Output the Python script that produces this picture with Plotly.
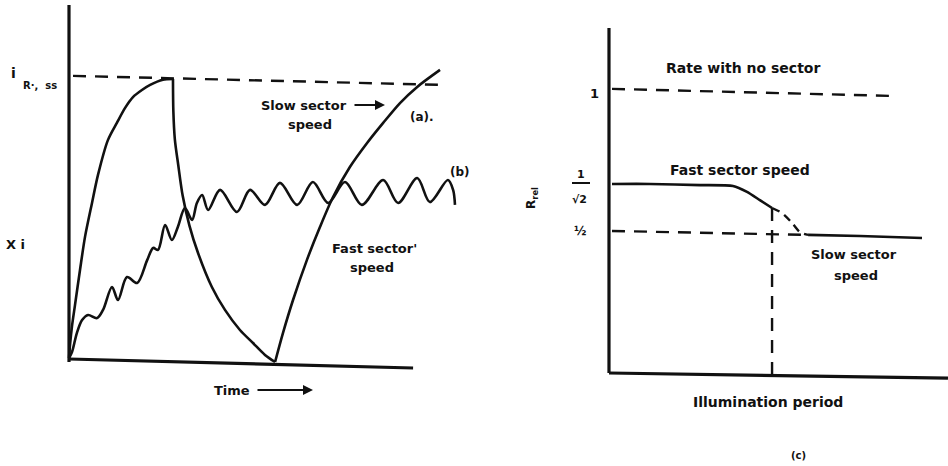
import plotly.graph_objects as go

W, H = 948, 466

# ---------------- Panel (a)/(b): concentration vs time ----------------
# curve (a): slow sector speed -- light on (rise), light off (decay), light on again (rise)
a_rise_time = [0, 0.27, 0.8, 1.6, 2.94, 4.28, 6.15, 7.75, 10.4, 12.8, 15.0, 17.1, 19.5, 21.7, 25.1, 27.8]
a_rise_conc = [0.7, 5.3, 12.0, 19.4, 31.8, 43.5, 55.5, 65.4, 77.7, 83.8, 89.1, 92.9, 95.4, 97.2, 99.0, 99.3]
a_decay_time = [27.8, 27.9, 28.3, 29.2, 30.4, 32.2, 34.5, 38.2, 41.7, 45.7, 49.2, 52.4, 55.1]
a_decay_conc = [99.3, 88.0, 78.0, 69.0, 58.0, 47.5, 37.8, 25.8, 17.7, 10.6, 6.0, 1.8, -0.7]
a_rec_time = [55.1, 57.2, 59.9, 63.6, 67.1, 70.6, 75.1, 79.7, 84.0, 88.5, 93.1, 99.2]
a_rec_conc = [-0.7, 9.5, 21.2, 35.3, 47.0, 57.6, 68.2, 76.7, 83.8, 90.8, 96.5, 102.5]

# curve (b): fast sector speed (oscillating build-up)
b_time = [0, 0.8, 2.1, 3.5, 5.1, 7.5, 9.1, 11.5, 13.1, 15.5, 18.2, 20.9, 22.5, 23.8, 25.7, 27.5,
          29.1, 31.0, 32.9, 34.2, 35.6, 37.2, 40.4, 44.9, 48.4, 52.4, 56.4, 61.0, 65.2, 69.3,
          73.8, 78.3, 84.0, 88.0, 93.1, 96.5, 101.3, 102.7, 103.2]
b_conc = [0.7, 2.8, 9.5, 14.1, 15.9, 14.8, 17.7, 25.8, 21.2, 29.3, 27.2, 35.3, 39.6, 38.9, 47.7, 42.4,
          47.0, 53.7, 49.5, 55.5, 58.3, 53.0, 60.1, 52.3, 60.1, 54.8, 62.6, 54.8, 62.9, 55.5,
          62.9, 54.8, 63.6, 55.5, 64.3, 55.8, 63.6, 60.1, 54.8]

ss_time = [1.07, 100.0]
ss_conc = [100.4, 97.2]

# ---------------- Panel (c): relative rate vs illumination period ----------------
fast_period = [0.96, 13.1, 29.1, 39.6, 44.1, 48.2, 52.1]
fast_rate = [0.668, 0.668, 0.664, 0.661, 0.640, 0.611, 0.583]
trans_period = [52.1, 55.3, 58.5, 61.0, 63.6]
trans_rate = [0.583, 0.565, 0.530, 0.498, 0.488]
slow_period = [63.6, 80.2, 100.0]
slow_rate = [0.488, 0.484, 0.477]
half_period = [0.96, 62.6]
half_rate = [0.502, 0.488]
full_period = [0.96, 90.4]
full_rate = [1.004, 0.979]
mark_period = [52.1, 52.1]
mark_rate = [0.583, -0.007]

INK = "#111111"
dash_style = dict(color=INK, width=2.4, dash="13px,9px")


def curve(x, y, xa, ya, width=2.6, smoothing=0.8, dash=None):
    ln = dict(color=INK, width=width, shape="spline", smoothing=smoothing)
    if dash:
        ln["dash"] = dash
    return go.Scatter(x=x, y=y, mode="lines", line=ln, xaxis=xa, yaxis=ya, hoverinfo="skip")


fig = go.Figure()
# left panel traces
fig.add_trace(go.Scatter(x=ss_time, y=ss_conc, mode="lines", line=dash_style,
                         xaxis="x", yaxis="y", hoverinfo="skip"))
fig.add_trace(curve(a_rise_time, a_rise_conc, "x", "y"))
fig.add_trace(curve(a_decay_time, a_decay_conc, "x", "y"))
fig.add_trace(curve(a_rec_time, a_rec_conc, "x", "y"))
fig.add_trace(curve(b_time, b_conc, "x", "y", smoothing=0.9))
# right panel traces
fig.add_trace(go.Scatter(x=full_period, y=full_rate, mode="lines", line=dash_style,
                         xaxis="x2", yaxis="y2", hoverinfo="skip"))
fig.add_trace(go.Scatter(x=half_period, y=half_rate, mode="lines", line=dash_style,
                         xaxis="x2", yaxis="y2", hoverinfo="skip"))
fig.add_trace(go.Scatter(x=mark_period, y=mark_rate, mode="lines", line=dash_style,
                         xaxis="x2", yaxis="y2", hoverinfo="skip"))
fig.add_trace(curve(fast_period, fast_rate, "x2", "y2", smoothing=0.6))
fig.add_trace(curve(trans_period, trans_rate, "x2", "y2", width=2.4, dash="8px,6px"))
fig.add_trace(curve(slow_period, slow_rate, "x2", "y2"))

# axis lines drawn in data coordinates
shapes = [
    dict(type="line", xref="x", yref="y", x0=0, y0=125.4, x1=0, y1=-0.7,
         line=dict(color=INK, width=3.2)),
    dict(type="line", xref="x", yref="y", x0=0, y0=0.35, x1=92.0, y1=-2.83,
         line=dict(color=INK, width=3.2)),
    dict(type="line", xref="x2", yref="y2", x0=0, y0=1.219, x1=0, y1=0,
         line=dict(color=INK, width=3.2)),
    dict(type="line", xref="x2", yref="y2", x0=0, y0=0, x1=108.3, y1=-0.018,
         line=dict(color=INK, width=3.2)),
    # fraction bar of the 1/sqrt2 label
    dict(type="line", xref="paper", yref="paper", x0=572 / W, x1=590 / W,
         y0=1 - 183 / H, y1=1 - 183 / H, line=dict(color=INK, width=2)),
]

FONT = "DejaVu Sans"


def ann(text, px, py, size=13, **kw):
    d = dict(text=text, x=px / W, y=1 - py / H, xref="paper", yref="paper",
             showarrow=False, xanchor="center", yanchor="middle",
             font=dict(family=FONT, size=size, color=INK))
    d.update(kw)
    return d


def arrow_ann(text, head_px, py, text_cx, size=13):
    return dict(text=text, x=head_px / W, y=1 - py / H, xref="paper", yref="paper",
                ax=text_cx - head_px, ay=0, showarrow=True, arrowhead=2, arrowsize=1,
                arrowwidth=2, arrowcolor=INK, standoff=0, startstandoff=6,
                font=dict(family=FONT, size=size, color=INK))


annotations = [
    ann("<b>i</b>", 13, 73, size=14),
    ann("<b>R·,  ss</b>", 40, 86, size=10),
    ann("<b>X i</b>", 16, 244, size=13),
    arrow_ann("<b>Slow sector</b>", 385, 105, 304),
    ann("<b>speed</b>", 310, 125),
    ann("<b>(a).</b>", 422, 117, size=12),
    ann("<b>(b)</b>", 460, 172, size=12),
    ann("<b>Fast sector'</b>", 374, 248),
    ann("<b>speed</b>", 372, 267),
    arrow_ann("<b>Time</b>", 313, 390, 232),
    ann("<b>Rate with no sector</b>", 743, 68, size=14),
    ann("<b>1</b>", 594, 93),
    ann("<b>Fast sector speed</b>", 740, 170, size=14),
    ann("<b>Slow sector</b>", 854, 255),
    ann("<b>speed</b>", 856, 275),
    ann("<b>Illumination period</b>", 768, 402, size=14),
    ann("<b>(c)</b>", 798, 455, size=10),
    ann("<b>1</b>", 581, 174, size=11),
    ann("<b>√2</b>", 579, 199, size=11),
    ann("<b>½</b>", 580, 231, size=12),
    ann("<b>R<sub>rel</sub></b>", 532, 198, size=12, textangle=-90),
]

fig.update_layout(
    width=W, height=H,
    margin=dict(l=0, r=0, t=0, b=0),
    paper_bgcolor="white", plot_bgcolor="white",
    showlegend=False,
    xaxis=dict(domain=[0, 480 / W], range=[-18.45, 109.89], visible=False, fixedrange=True),
    yaxis=dict(domain=[0, 1], range=[-37.46, 127.21], visible=False, fixedrange=True),
    xaxis2=dict(domain=[480 / W, 1], range=[-41.21, 108.31], visible=False, fixedrange=True),
    yaxis2=dict(domain=[0, 1], range=[-0.3286, 1.318], visible=False, fixedrange=True,
                anchor="x2"),
    shapes=shapes,
    annotations=annotations,
)

fig.write_html("out.html")
